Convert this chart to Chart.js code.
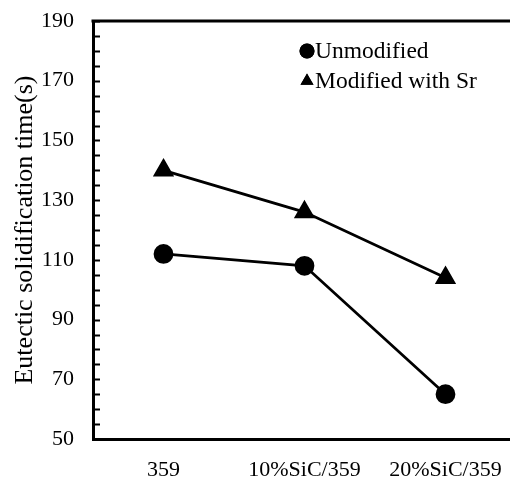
<!DOCTYPE html>
<html>
<head>
<meta charset="utf-8">
<script src="https://cdn.jsdelivr.net/npm/chart.js@4/dist/chart.umd.min.js"></script>
<style>
  html, body { margin: 0; padding: 0; background: #fff; overflow: hidden; }
  #wrap { width: 510px; height: 485px; overflow: hidden; }
</style>
</head>
<body>
<div id="wrap"><canvas id="chart" width="516" height="485"></canvas></div>
<script>
// Datos
const categories = ['359', '10%SiC/359', '20%SiC/359'];
const unmodified = [112, 108, 65];
const modifiedSr = [140, 126, 104];
const seriesNames = ['Unmodified', 'Modified with Sr'];
const yTitle = 'Eutectic solidification time(s)';

const FONT = "'Liberation Serif', 'Times New Roman', serif";

// Marcas interiores del eje Y, borde superior y leyenda
const framePlugin = {
    id: 'frame',
    afterDraw(chart) {
        const ctx = chart.ctx;
        const area = chart.chartArea;
        const y = chart.scales.y;
        ctx.save();
        ctx.strokeStyle = '#000';
        ctx.lineWidth = 2;
        y.ticks.forEach(t => {
            const py = Math.round(y.getPixelForValue(t.value)) + 0.5;
            ctx.beginPath();
            ctx.moveTo(area.left, py);
            ctx.lineTo(area.left + 7, py);
            ctx.stroke();
        });
        ctx.lineWidth = 3;
        ctx.beginPath();
        ctx.moveTo(area.left - 1.5, area.top);
        ctx.lineTo(chart.width, area.top);
        ctx.stroke();

        // leyenda
        const items = chart.data.datasets;
        ctx.font = '23.5px ' + FONT;
        ctx.textBaseline = 'middle';
        items.forEach((ds, i) => {
            const lx = 307;
            const ly = 51 + i * 30;
            ctx.fillStyle = '#000';
            Chart.helpers.drawPoint(ctx, {
                pointStyle: ds.pointStyle,
                radius: 7.5,
                rotation: 0,
                borderWidth: 0
            }, lx, ly);
            ctx.fill();
            ctx.fillText(ds.label, lx + 8, ly + 1);
        });
        ctx.restore();
    }
};

new Chart(document.getElementById('chart').getContext('2d'), {
    type: 'line',
    data: {
        labels: categories,
        datasets: [{
            label: seriesNames[0],
            data: unmodified,
            borderColor: '#000',
            backgroundColor: '#000',
            borderWidth: 2.8,
            pointStyle: 'circle',
            pointRadius: 8.5,
            pointHoverRadius: 8.5,
            tension: 0
        }, {
            label: seriesNames[1],
            data: modifiedSr,
            borderColor: '#000',
            backgroundColor: '#000',
            borderWidth: 2.8,
            pointStyle: 'triangle',
            pointRadius: 9.5,
            pointHoverRadius: 9.5,
            tension: 0
        }]
    },
    options: {
        responsive: false,
        animation: false,
        events: [],
        layout: { autoPadding: false, padding: { top: 21, right: 0, left: 0, bottom: 0 } },
        plugins: {
            legend: { display: false },
            tooltip: { enabled: false }
        },
        scales: {
            x: {
                offset: true,
                grid: { display: false, drawTicks: false },
                border: { color: '#000', width: 3 },
                ticks: {
                    color: '#000',
                    padding: 18,
                    maxRotation: 0,
                    autoSkip: false,
                    font: { family: FONT, size: 22 }
                },
                afterFit(scale) {
                    scale.height = 46;
                    scale.paddingLeft = 0;
                    scale.paddingRight = 0;
                }
            },
            y: {
                min: 50,
                max: 190,
                grid: { display: false, drawTicks: false },
                border: { color: '#000', width: 3 },
                ticks: {
                    stepSize: 5,
                    autoSkip: false,
                    color: '#000',
                    padding: 19,
                    font: { family: FONT, size: 22 },
                    callback: v => ((v - 50) % 20 === 0 ? String(v) : '')
                },
                title: {
                    display: true,
                    text: yTitle,
                    color: '#000',
                    font: { family: FONT, size: 26 },
                    padding: { top: 10, bottom: 0 }
                },
                afterFit(scale) {
                    scale.width = 93;
                    scale.paddingTop = 0;
                    scale.paddingBottom = 0;
                }
            }
        }
    },
    plugins: [framePlugin]
});
</script>
</body>
</html>
